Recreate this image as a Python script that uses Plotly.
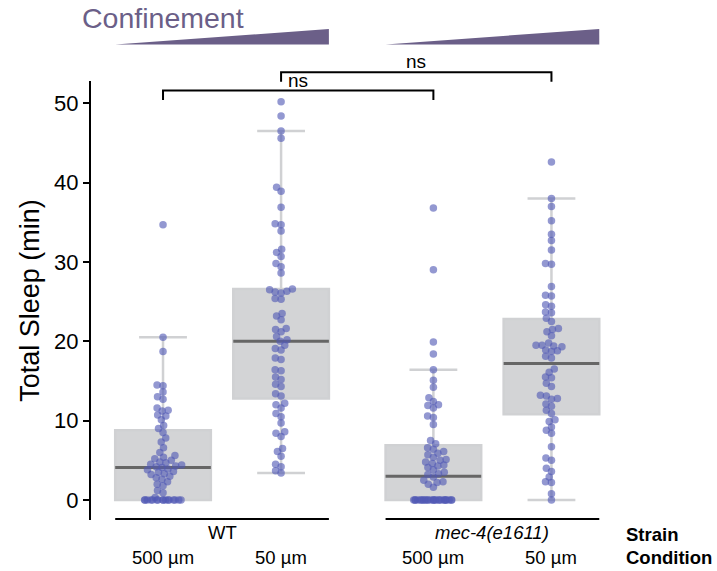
import math
import plotly.graph_objects as go

# ---- data -------------------------------------------------------------
strains = ["WT", "mec-4(e1611)"]
conditions = ["500 µm", "50 µm", "500 µm", "50 µm"]
group_pos = [0.0, 1.0, 2.29, 3.29]

wt_500 = [34.7, 20.5, 18.7, 14.5, 14.4, 13.6, 13.0, 12.7, 11.6, 11.3, 11.2, 10.7,
          10.6, 10.1, 9.4, 9.0, 8.5, 7.8, 7.3, 6.6, 6.0, 5.6, 5.4, 5.2, 5.0, 4.8,
          4.7, 4.5, 4.4, 4.3, 4.2, 4.1, 3.9, 3.8, 3.6, 3.5, 3.3, 3.2, 3.0, 2.8,
          2.6, 2.3, 2.0, 1.8, 1.2, 0.9, 0.3] + [0.0] * 16
wt_50 = [50.2, 48.4, 46.5, 45.6, 39.4, 38.9, 36.9, 34.8, 34.7, 33.9, 31.6, 31.2,
         30.7, 29.8, 29.4, 28.6, 26.6, 26.5, 26.3, 26.2, 26.1, 25.4, 25.3, 23.5,
         23.2, 22.7, 21.6, 21.5, 21.2, 20.6, 20.2, 20.0, 19.5, 19.1, 18.9, 17.9,
         17.7, 16.4, 16.3, 15.5, 15.2, 14.6, 14.3, 13.4, 13.1, 12.2, 12.0, 11.6,
         10.9, 10.5, 9.7, 8.6, 8.4, 8.0, 6.5, 6.1, 5.5, 4.5, 4.2, 3.7, 3.4]
mec_500 = [36.8, 29.0, 19.9, 18.4, 16.4, 15.1, 14.2, 12.9, 12.4, 12.0, 11.9, 11.6,
           10.6, 10.4, 9.5, 7.5, 7.1, 6.6, 6.4, 6.1, 5.9, 5.7, 5.4, 5.1, 5.0,
           4.8, 4.6, 4.4, 4.3, 4.1, 3.8, 3.5, 3.3, 3.2, 2.9, 2.5, 2.3, 2.2, 2.0,
           1.6] + [0.0] * 26
mec_50 = [42.6, 38.0, 37.0, 35.2, 33.5, 32.7, 31.5, 29.8, 29.7, 26.9, 25.8, 25.7,
          24.6, 24.4, 23.7, 23.6, 22.9, 22.5, 21.6, 21.5, 21.2, 20.7, 19.8, 19.5,
          19.5, 19.4, 19.3, 18.9, 18.8, 18.7, 18.1, 17.9, 16.5, 16.1, 15.5, 15.4,
          14.7, 14.3, 13.2, 13.1, 12.8, 12.7, 12.1, 11.8, 11.3, 10.9, 10.1, 9.9,
          9.2, 8.8, 8.4, 6.7, 5.3, 5.0, 4.0, 3.6, 2.9, 2.3, 2.2, 0.8, 0.0]
groups = [wt_500, wt_50, mec_500, mec_50]

# box summary statistics per group
q1 = [0.0, 12.8, 0.0, 10.8]
median = [4.1, 20.0, 3.0, 17.2]
q3 = [8.8, 26.6, 6.9, 22.8]
lower_fence = [0.0, 3.4, 0.0, 0.0]
upper_fence = [20.5, 46.5, 16.4, 38.0]

# significance comparisons: (group a, group b, label)
comparisons = [(0, 2, "ns"), (1, 3, "ns")]
bracket_levels = [51.6, 53.9]

# ---- geometry ---------------------------------------------------------
Y_RANGE = [-2.52, 52.8]
X_RANGE = [-0.61, 4.04]
MARGIN = dict(l=91, r=77, t=81, b=51)
W, H = 717, 571
plot_w = W - MARGIN["l"] - MARGIN["r"]
plot_h = H - MARGIN["t"] - MARGIN["b"]
XPX = plot_w / (X_RANGE[1] - X_RANGE[0])
YPX = plot_h / (Y_RANGE[1] - Y_RANGE[0])
BOX_W = 0.81


def ypaper(v):
    return (v - Y_RANGE[0]) / (Y_RANGE[1] - Y_RANGE[0])


def ypaper_px(px_from_top):
    return (H - MARGIN["b"] - px_from_top) / plot_h


def xpaper_px(px):
    return (px - MARGIN["l"]) / plot_w


def van_der_corput(k):
    f, r, b = 0.0, 0.5, k
    while b:
        f += r * (b & 1)
        b >>= 1
        r /= 2
    return f


def swarm_offsets(values, diam=6.0, max_px=21.0):
    """Beeswarm placement in pixel space; returns x offsets in data units.
    Points that cannot fit within +-max_px are spread evenly over the band."""
    order = sorted(range(len(values)), key=lambda i: values[i])
    placed = []
    offs = [0.0] * len(values)
    overflow = 0
    for i in order:
        y = values[i] * YPX
        cands = [0.0]
        for (px, py) in placed:
            dy = y - py
            if abs(dy) < diam:
                dx = math.sqrt(diam * diam - dy * dy)
                cands += [px + dx, px - dx]
        cands.sort(key=lambda c: (abs(c), c))
        chosen = None
        for c in cands:
            if abs(c) > max_px:
                break
            if all((c - px) ** 2 + (y - py) ** 2 >= diam * diam - 1e-6
                   for (px, py) in placed):
                chosen = c
                break
        if chosen is None:
            chosen = -max_px + 2 * max_px * van_der_corput(overflow + 1)
            overflow += 1
        placed.append((chosen, y))
        offs[i] = chosen / XPX
    return offs


FONT = "Liberation Sans, Arial, sans-serif"
PURPLE = "#6b5f88"
DOT = "rgba(80, 88, 180, 0.62)"

fig = go.Figure()

# boxes (fill + whiskers)
fig.add_trace(go.Box(
    x=group_pos, q1=q1, median=median, q3=q3,
    lowerfence=lower_fence, upperfence=upper_fence,
    width=BOX_W, whiskerwidth=0.5, boxpoints=False,
    fillcolor="#d3d4d6", line=dict(color="#d0d1d3", width=2.5),
    hoverinfo="skip", showlegend=False,
))

# median lines
mx, my = [], []
for p, m in zip(group_pos, median):
    mx += [p - BOX_W / 2, p + BOX_W / 2, None]
    my += [m, m, None]
fig.add_trace(go.Scatter(x=mx, y=my, mode="lines",
                         line=dict(color="#666666", width=3),
                         hoverinfo="skip", showlegend=False))

# individual animals
for p, vals in zip(group_pos, groups):
    offs = swarm_offsets(vals)
    fig.add_trace(go.Scatter(
        x=[p + o for o in offs], y=vals, mode="markers",
        marker=dict(size=7.5, color=DOT, line=dict(width=0)),
        cliponaxis=False, hoverinfo="skip", showlegend=False,
    ))

shapes = []
annotations = []

# significance brackets
for (a, b, lab), lvl in zip(comparisons, bracket_levels):
    xa, xb = group_pos[a], group_pos[b]
    top = ypaper(lvl)
    leg = ypaper(lvl - 1.2)
    shapes.append(dict(type="path", xref="x", yref="paper",
                       path=f"M {xa},{leg} L {xa},{top} L {xb},{top} L {xb},{leg}",
                       line=dict(color="black", width=2)))
    annotations.append(dict(x=(xa + xb) / 2, y=top, xref="x", yref="paper",
                            text=lab, showarrow=False, yanchor="bottom",
                            yshift=-2, font=dict(size=19, color="black", family=FONT)))

# confinement wedges above each strain
tri_lo, tri_hi = ypaper_px(44.5), ypaper_px(29)
for s in range(2):
    x0 = group_pos[2 * s] - BOX_W / 2
    x1 = group_pos[2 * s + 1] + BOX_W / 2
    shapes.append(dict(type="path", xref="x", yref="paper",
                       path=f"M {x0},{tri_lo} L {x1},{tri_lo} L {x1},{tri_hi} Z",
                       fillcolor=PURPLE, line=dict(width=0)))
annotations.append(dict(x=xpaper_px(80), y=ypaper_px(18), xref="paper", yref="paper",
                        text="Confinement", showarrow=False, xanchor="left",
                        yanchor="middle", font=dict(size=28.5, color=PURPLE, family=FONT)))

# strain group lines and labels
LBL = 18.5
line_y = ypaper_px(519)
for s, name in enumerate(strains):
    x0 = group_pos[2 * s] - BOX_W / 2
    x1 = group_pos[2 * s + 1] + BOX_W / 2
    shapes.append(dict(type="line", xref="x", yref="paper", x0=x0, x1=x1,
                       y0=line_y, y1=line_y, line=dict(color="black", width=2)))
    txt = name if s == 0 else f"<i>{name}</i>"
    annotations.append(dict(x=(x0 + x1) / 2, y=ypaper_px(532), xref="x", yref="paper",
                            text=txt, showarrow=False, yanchor="middle",
                            font=dict(size=LBL, color="black", family=FONT)))
for p, c in zip(group_pos, conditions):
    annotations.append(dict(x=p, y=ypaper_px(557), xref="x", yref="paper",
                            text=c, showarrow=False, yanchor="middle",
                            font=dict(size=LBL, color="black", family=FONT)))
for txt, py in (("Strain", 534), ("Condition", 557)):
    annotations.append(dict(x=xpaper_px(624), y=ypaper_px(py), xref="paper", yref="paper",
                            text=f"<b>{txt}</b>", showarrow=False, xanchor="left",
                            yanchor="middle", font=dict(size=LBL, color="black", family=FONT)))

fig.update_layout(
    width=W, height=H, margin=MARGIN,
    paper_bgcolor="white", plot_bgcolor="white",
    shapes=shapes, annotations=annotations,
    xaxis=dict(range=X_RANGE, visible=False, showgrid=False, zeroline=False),
    yaxis=dict(range=Y_RANGE, tickvals=[0, 10, 20, 30, 40, 50],
               showgrid=False, zeroline=False, showline=True,
               linecolor="black", linewidth=2, ticks="outside", ticklen=6,
               tickwidth=1.5, tickcolor="black",
               tickfont=dict(size=22, color="black", family=FONT),
               title=dict(text="Total Sleep (min)",
                          font=dict(size=27, color="black", family=FONT),
                          standoff=7)),
    font=dict(family=FONT),
)

fig.write_html("out.html")
